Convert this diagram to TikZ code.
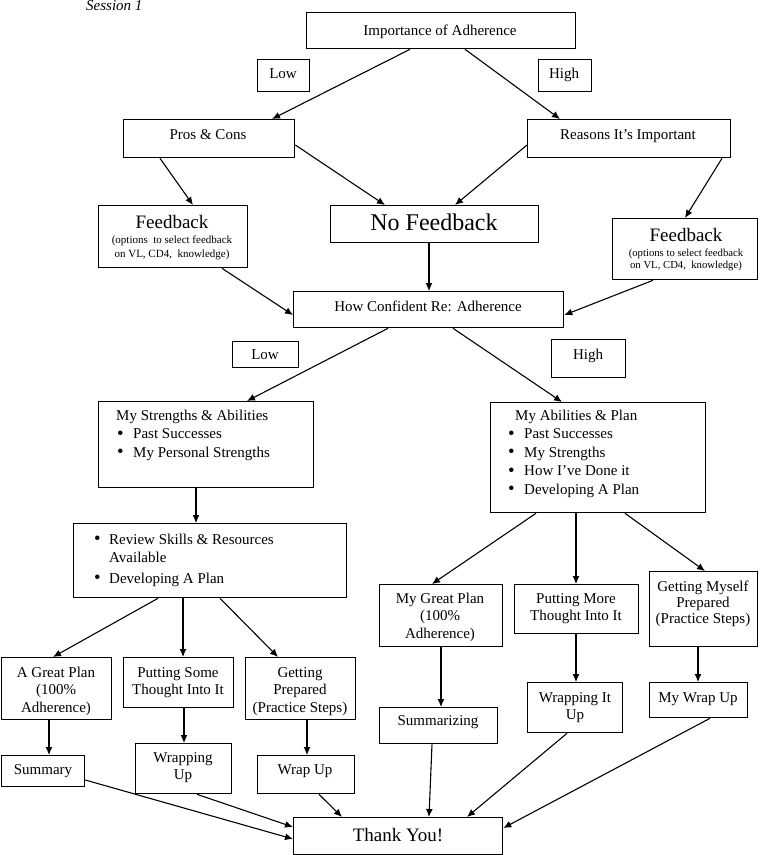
\documentclass[tikz,border=0pt]{standalone}
\usepackage{fontspec}
\setmainfont{Liberation Serif}
\usetikzlibrary{calc,arrows.meta}
\newcommand{\mycl}[1]{\begin{tabular}[t]{@{}c@{}}#1\end{tabular}}
\newcommand{\myll}[1]{\begin{tabular}[t]{@{}l@{}}#1\end{tabular}}
\newcommand{\bul}{\raisebox{-0.5pt}{\scalebox{1.25}{•}}}
\begin{document}
\begin{tikzpicture}[x=1pt,y=-1pt,
 box/.style={draw, line width=1.3pt, inner sep=0pt, anchor=north west},
 txt/.style={inner sep=0pt, anchor=base, font=\fontsize{15}{17.5}\selectfont},
 ltxt/.style={inner sep=0pt, anchor=base west, font=\fontsize{15}{18.5}\selectfont},
 arr/.style={line width=1.1pt, -{Latex[length=8pt,width=7pt]}}]
\useasboundingbox (0,0) rectangle (761,855);

% session label
\node[ltxt, font=\fontsize{15}{17.5}\selectfont\itshape] (sess) at (86,10) {Session 1};

% boxes
\node[box, minimum width=269pt, minimum height=36pt] (imp) at (306,12) {};
\node[box, minimum width=52pt, minimum height=32pt] (low1) at (257,59) {};
\node[box, minimum width=53pt, minimum height=32pt] (high1) at (538,59) {};
\node[box, minimum width=171pt, minimum height=38pt] (pc) at (123,119) {};
\node[box, minimum width=203pt, minimum height=38pt] (ri) at (527,119) {};
\node[box, minimum width=149pt, minimum height=62pt] (fbl) at (98,205) {};
\node[box, minimum width=208pt, minimum height=37pt] (nofb) at (330,205) {};
\node[box, minimum width=145pt, minimum height=61pt] (fbr) at (612,218) {};
\node[box, minimum width=270pt, minimum height=36pt] (hc) at (293,291) {};
\node[box, minimum width=66pt, minimum height=26pt] (low2) at (232,341) {};
\node[box, minimum width=74pt, minimum height=38pt] (high2) at (551,339) {};
\node[box, minimum width=215pt, minimum height=86pt] (msa) at (98,401) {};
\node[box, minimum width=273pt, minimum height=74pt] (rev) at (73,523) {};
\node[box, minimum width=215pt, minimum height=110pt] (map) at (490,402) {};
\node[box, minimum width=123pt, minimum height=62pt] (mgp) at (379,584) {};
\node[box, minimum width=124pt, minimum height=49pt] (pmt) at (514,584) {};
\node[box, minimum width=108pt, minimum height=75pt] (gmp) at (649,571) {};
\node[box, minimum width=118pt, minimum height=36pt] (smz) at (379,707) {};
\node[box, minimum width=95pt, minimum height=50pt] (wiu) at (527,682) {};
\node[box, minimum width=98pt, minimum height=35pt] (mwu) at (649,682) {};
\node[box, minimum width=209pt, minimum height=37pt] (ty) at (293,817) {};
\node[box, minimum width=110pt, minimum height=62pt] (agp) at (1,657) {};
\node[box, minimum width=110pt, minimum height=50pt] (psm) at (123,657) {};
\node[box, minimum width=110pt, minimum height=62pt] (gp) at (245,657) {};
\node[box, minimum width=83pt, minimum height=31pt] (sum) at (1,755) {};
\node[box, minimum width=96pt, minimum height=50pt] (wu) at (135,743) {};
\node[box, minimum width=97pt, minimum height=38pt] (wru) at (257,755) {};

% texts
\node[txt] (timp) at (440,35) {Importance of Adherence};
\node[txt] (tlow1) at (283,78) {Low};
\node[txt] (thigh1) at (564,78) {High};
\node[txt] (tpc) at (208,139) {Pros \& Cons};
\node[txt] (tri) at (628,139) {Reasons It’s Important};
\node[txt, font=\fontsize{19}{22}\selectfont] (tfbl) at (172,228.5) {Feedback};
\node[txt, font=\fontsize{11}{14}\selectfont] (tfbls) at (172,243) {\mycl{(options\ \ to select feedback\\on VL, CD4,\ \ knowledge)}};
\node[txt, font=\fontsize{24}{28}\selectfont] (tnofb) at (434,230) {No Feedback};
\node[txt, font=\fontsize{19}{22}\selectfont] (tfbr) at (686,241.5) {Feedback};
\node[txt, font=\fontsize{10.7}{12}\selectfont] (tfbrs) at (686,256) {\mycl{(options to select feedback\\on VL, CD4,\ \ knowledge)}};
\node[txt] (thc) at (428,311) {How Confident Re: Adherence};
\node[txt] (tlow2) at (265,359) {Low};
\node[txt] (thigh2) at (588,359) {High};
\node[ltxt] (tmsa) at (116,420) {\myll{My Strengths \& Abilities\\
  \makebox[17pt][l]{\hspace{1pt}\bul}Past Successes\\
  \makebox[17pt][l]{\hspace{1pt}\bul}My Personal Strengths}};
\node[ltxt] (trev) at (94,544) {\myll{\makebox[15pt][l]{\bul}Review Skills \& Resources\\
  \hspace*{15pt}Available\\[2pt]
  \makebox[15pt][l]{\bul}Developing A Plan}};
\node[ltxt] (tmap) at (515,420) {\myll{My Abilities \& Plan\\
  \hspace*{-7pt}\makebox[16pt][l]{\bul}Past Successes\\
  \hspace*{-7pt}\makebox[16pt][l]{\bul}My Strengths\\
  \hspace*{-7pt}\makebox[16pt][l]{\bul}How I’ve Done it\\
  \hspace*{-7pt}\makebox[16pt][l]{\bul}Developing A Plan}};
\node[txt] (tmgp) at (440,603) {\mycl{My Great Plan\\(100\%\\Adherence)}};
\node[txt] (tpmt) at (576,603) {\mycl{Putting More\\Thought Into It}};
\node[txt, font=\fontsize{15}{16}\selectfont] (tgmp) at (703,591) {\mycl{Getting Myself\\Prepared\\(Practice Steps)}};
\node[txt] (tsmz) at (438,725) {Summarizing};
\node[txt] (twiu) at (575,702) {\mycl{Wrapping It\\Up}};
\node[txt] (tmwu) at (698,702) {My Wrap Up};
\node[txt, font=\fontsize{19}{22}\selectfont] (tty) at (398,841) {Thank You!};
\node[txt] (tagp) at (56,677) {\mycl{A Great Plan\\(100\%\\Adherence)}};
\node[txt] (tpsm) at (178,677) {\mycl{Putting Some\\Thought Into It}};
\node[txt] (tgp) at (300,677) {\mycl{Getting\\Prepared\\(Practice Steps)}};
\node[txt] (tsum) at (43,774) {Summary};
\node[txt] (twu) at (183,762) {\mycl{Wrapping\\Up}};
\node[txt] (twru) at (305,774) {Wrap Up};

% connectors
\draw[arr] ($(imp.south west)+(104,0)$) -- ($(pc.north west)+(149,0)$);
\draw[arr] ($(imp.south west)+(159,0)$) -- ($(ri.north west)+(33,0)$);
\draw[arr] ($(pc.south west)+(37,0)$) -- ($(fbl.north west)+(95,0)$);
\draw[arr] ($(pc.north east)+(0,26)$) -- ($(nofb.north west)+(55,0)$);
\draw[arr] ($(ri.north west)+(0,26)$) -- ($(nofb.north west)+(125,0)$);
\draw[arr] ($(ri.south west)+(195,0)$) -- ($(fbr.north west)+(73,0)$);
\draw[arr] ($(fbl.south west)+(124,0)$) -- ($(hc.north west)+(0,24)$);
\draw[arr] ($(nofb.south west)+(99,0)$) -- ($(hc.north west)+(136,0)$);
\draw[arr] ($(fbr.south west)+(41,0)$) -- ($(hc.north east)+(0,24)$);
\draw[arr] ($(hc.south west)+(95,0)$) -- ($(msa.north west)+(149,0)$);
\draw[arr] ($(hc.south west)+(160,0)$) -- ($(map.north west)+(72,0)$);
\draw[arr] ($(msa.south west)+(98,0)$) -- ($(rev.north west)+(123,0)$);
\draw[arr] ($(rev.south west)+(85,0)$) -- ($(agp.north west)+(52,0)$);
\draw[arr] ($(rev.south west)+(110,0)$) -- ($(psm.north west)+(60,0)$);
\draw[arr] ($(rev.south west)+(147,0)$) -- ($(gp.north west)+(33,0)$);
\draw[arr] ($(map.south west)+(46,0)$) -- ($(mgp.north west)+(53,0)$);
\draw[arr] ($(map.south west)+(86,0)$) -- ($(pmt.north west)+(62,0)$);
\draw[arr] ($(map.south west)+(135,0)$) -- ($(gmp.north west)+(56,0)$);
\draw[arr] ($(mgp.south west)+(62,0)$) -- ($(smz.north west)+(62,0)$);
\draw[arr] ($(pmt.south west)+(62,0)$) -- ($(wiu.north west)+(49,0)$);
\draw[arr] ($(gmp.south west)+(49,0)$) -- ($(mwu.north west)+(49,0)$);
\draw[arr] ($(agp.south west)+(48,0)$) -- ($(sum.north west)+(48,0)$);
\draw[arr] ($(psm.south west)+(61,0)$) -- ($(wu.north west)+(49,0)$);
\draw[arr] ($(gp.south west)+(62,0)$) -- ($(wru.north west)+(50,0)$);
\draw[arr] ($(sum.north east)+(0,25)$) -- ($(ty.north west)+(0,22)$);
\draw[arr] ($(wu.south west)+(62,0)$) -- ($(ty.north west)+(0,10)$);
\draw[arr] ($(wru.south west)+(62,0)$) -- ($(ty.north west)+(49,0)$);
\draw[arr] ($(smz.south west)+(53,0)$) -- ($(ty.north west)+(136,0)$);
\draw[arr] ($(wiu.south west)+(40,0)$) -- ($(ty.north west)+(174,0)$);
\draw[arr] ($(mwu.south west)+(61,0)$) -- ($(ty.north east)+(0,11)$);
\end{tikzpicture}
\end{document}
